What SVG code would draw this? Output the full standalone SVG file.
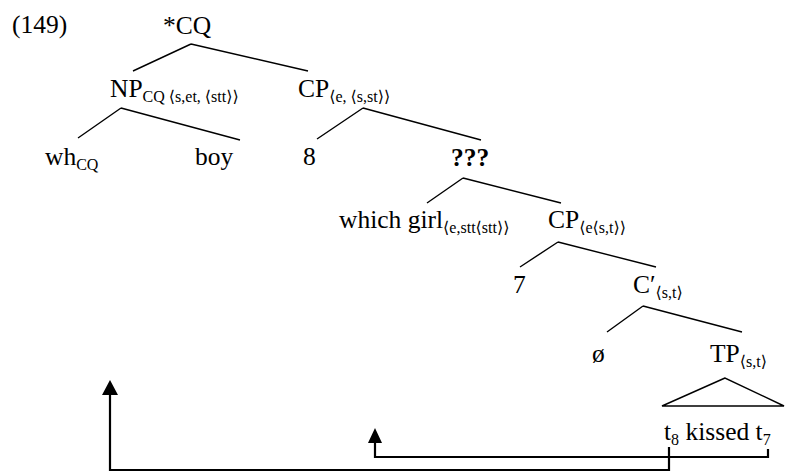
<svg xmlns="http://www.w3.org/2000/svg" width="787" height="472" viewBox="0 0 787 472">
<style>
text{font-family:"Liberation Serif","DejaVu Serif",serif;font-size:25.5px;fill:#000}
.sub{font-size:16px}
.b{font-weight:bold}
.e{stroke:#000;stroke-width:1.4;fill:none}
.a{stroke:#000;stroke-width:2.2;fill:none}
.h{fill:#000}
</style>
<rect width="787" height="472" fill="#fff"/>
<text x="12" y="33">(149)</text>
<g id="n-root"><text x="163" y="34">*CQ</text></g>
<g id="n-np"><text x="110" y="97">NP<tspan class="sub" y="102">CQ ⟨s,et, ⟨stt⟩⟩</tspan></text></g>
<g id="n-cp1"><text x="298" y="97">CP<tspan class="sub" y="102">⟨e, ⟨s,st⟩⟩</tspan></text></g>
<g id="n-wh"><text x="45" y="165">wh<tspan class="sub" y="170">CQ</tspan></text></g>
<g id="n-boy"><text x="195" y="165">boy</text></g>
<g id="n-8"><text x="303" y="165">8</text></g>
<g id="n-q"><text class="b" x="451" y="166">???</text></g>
<g id="n-which"><text x="339" y="228">which girl<tspan class="sub" y="233">⟨e,stt⟨stt⟩⟩</tspan></text></g>
<g id="n-cp2"><text x="548" y="228">CP<tspan class="sub" y="233">⟨e⟨s,t⟩⟩</tspan></text></g>
<g id="n-7"><text x="513" y="293">7</text></g>
<g id="n-cbar"><text x="633" y="293">C′<tspan class="sub" y="298">⟨s,t⟩</tspan></text></g>
<g id="n-null"><text x="592" y="362">ø</text></g>
<g id="n-tp"><text x="710" y="362">TP<tspan class="sub" y="367">⟨s,t⟩</tspan></text>
<polygon class="e" points="725,378 662,406 784,406"/></g>
<g id="n-tkt"><text x="664" y="440">t<tspan class="sub" y="445">8</tspan><tspan y="440"> kissed t</tspan><tspan class="sub" y="445">7</tspan></text></g>
<g id="connectors">
<path class="e" d="M191,44L133,71M191,44L308,71M121,108L78,138M121,108L240,140M363,108L317,139M363,108L481,140M463,178L427,203M463,178L561,203M558,242L520,267M558,242L656,267M643,306L607,332M643,306L742,332"/>
<polyline class="a" points="768,449 768,457 375,457 375,442"/>
<polygon class="h" points="375,428 368,443 382,443"/>
<polyline class="a" points="669,447 669,470 110,470 110,394"/>
<polygon class="h" points="110,380 102,395 118,395"/>
</g>
</svg>
